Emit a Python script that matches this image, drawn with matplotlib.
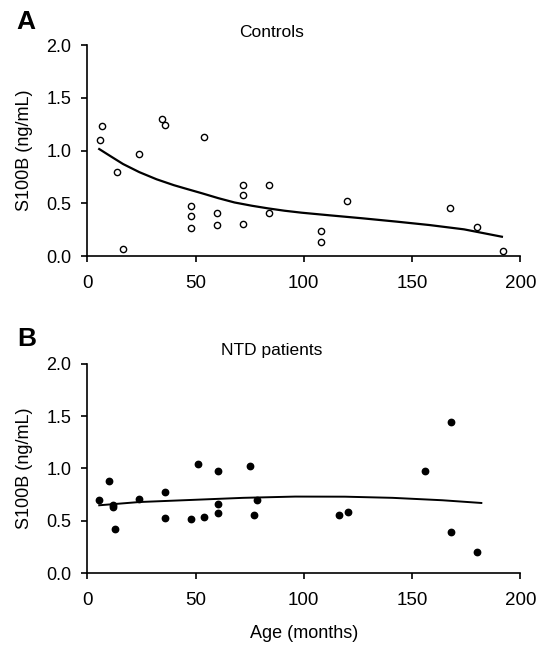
import matplotlib
matplotlib.use("Agg")
import matplotlib.pyplot as plt

plt.rcParams['font.family'] = ['Liberation Sans', 'DejaVu Sans']

# Controls (panel A)
ctrl_age = [5.8, 7.0, 13.9, 16.4, 23.8, 34.7, 35.7, 47.7, 47.7, 47.7, 53.9,
            59.9, 59.9, 72.0, 72.0, 72.0, 84.0, 84.0, 107.8, 107.8, 119.8,
            167.7, 179.8, 191.8]
ctrl_s100b = [1.10, 1.23, 0.80, 0.07, 0.97, 1.30, 1.24, 0.475, 0.38, 0.265, 1.13,
              0.41, 0.29, 0.67, 0.58, 0.30, 0.67, 0.41, 0.24, 0.13, 0.52,
              0.46, 0.28, 0.045]
# fitted trend line as drawn in panel A
ctrl_fit_age = [5.5, 10.5, 16.5, 24, 32, 40, 45, 53, 60.5, 68, 76, 83.5, 91,
                99, 112, 127, 143, 158, 174, 191.5]
ctrl_fit_s100b = [1.015, 0.95, 0.873, 0.796, 0.728, 0.672, 0.642, 0.595, 0.549,
                  0.508, 0.477, 0.452, 0.43, 0.411, 0.386, 0.358, 0.326, 0.294,
                  0.253, 0.183]

# NTD patients (panel B)
ntd_age = [5.6, 9.9, 11.8, 11.8, 12.8, 23.8, 35.8, 35.8, 47.8, 50.9, 54.0,
           60.2, 60.2, 60.2, 75.0, 77.0, 78.2, 116.2, 120.2, 156.0, 168.0,
           168.0, 180.2]
ntd_s100b = [0.70, 0.88, 0.655, 0.63, 0.42, 0.71, 0.78, 0.53, 0.52, 1.04, 0.54,
             0.98, 0.665, 0.575, 1.02, 0.553, 0.70, 0.56, 0.585, 0.98, 1.44,
             0.39, 0.20]
ntd_fit_age = [5.5, 24, 48, 72, 96, 119, 141, 164, 182]
ntd_fit_s100b = [0.649, 0.68, 0.70, 0.72, 0.732, 0.731, 0.72, 0.697, 0.671]

fig = plt.figure(figsize=(5.43, 6.47), dpi=100)
axA = fig.add_axes([0.1608, 0.6043, 0.7974, 0.3258])
axB = fig.add_axes([0.1608, 0.1139, 0.7974, 0.3240])

for ax in (axA, axB):
    ax.set_xlim(0, 200)
    ax.set_ylim(0, 2.0)
    ax.set_xticks([0, 50, 100, 150, 200])
    ax.set_yticks([0.0, 0.5, 1.0, 1.5, 2.0])
    ax.set_yticklabels(['0.0', '0.5', '1.0', '1.5', '2.0'])
    for s in ('top', 'right'):
        ax.spines[s].set_visible(False)
    for s in ('left', 'bottom'):
        ax.spines[s].set_linewidth(1.2)
    ax.tick_params(axis='both', direction='out', length=4.5, width=1.2)
    ax.tick_params(axis='x', pad=9, labelsize=13.5)
    ax.tick_params(axis='y', pad=7, labelsize=13)
    ax.set_ylabel('S100B (ng/mL)', fontsize=13)
    ax.yaxis.set_label_coords(-0.125, 0.5)

# panel A
axA.plot(ctrl_fit_age, ctrl_fit_s100b, color='black', lw=1.6)
axA.plot(ctrl_age, ctrl_s100b, 'o', mfc='white', mec='black', ms=4.5,
         mew=1.0, clip_on=False)

# panel B
axB.plot(ntd_fit_age, ntd_fit_s100b, color='black', lw=1.4)
axB.plot(ntd_age, ntd_s100b, 'o', color='black', ms=4.6, clip_on=False)
axB.set_xlabel('Age (months)', fontsize=13)
axB.xaxis.set_label_coords(0.5, -0.245)

fig.text(0.501, 0.950, 'Controls', fontsize=12.5, ha='center', va='center')
fig.text(0.500, 0.459, 'NTD patients', fontsize=12.5, ha='center', va='center')
fig.text(0.0485, 0.9657, 'A', fontsize=19, fontweight='bold', ha='center', va='center')
fig.text(0.0490, 0.4764, 'B', fontsize=19, fontweight='bold', ha='center', va='center')

fig.savefig('out.png', dpi=100)
